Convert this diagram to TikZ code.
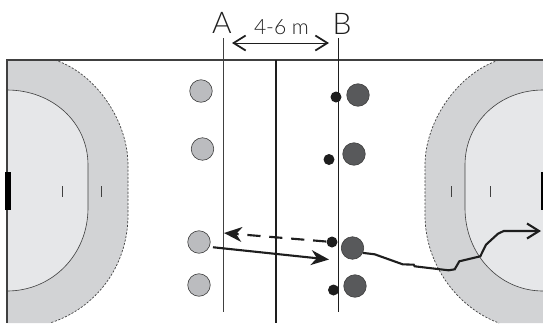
\documentclass[tikz,border=0pt]{standalone}
\usepackage{fontspec}
\setmainfont{Lato Light}
\usetikzlibrary{arrows.meta}
\definecolor{ink}{HTML}{1E1E1E}
\definecolor{courtline}{HTML}{404040}
\definecolor{outerzone}{HTML}{D2D3D5}
\definecolor{innerzone}{HTML}{E6E7E9}
\definecolor{teamlight}{HTML}{BBBCBF}
\definecolor{teamdark}{HTML}{58595B}
\tikzset{
 every node/.append style={text=ink},
 defender/.style={circle,draw=courtline,fill=teamlight,line width=.35pt,minimum size=4.5mm,inner sep=0pt},
 attacker/.style={defender,fill=teamdark},
 ball/.style={circle,fill=ink,minimum size=2.2mm,inner sep=0pt},
 letter/.style={font=\fontsize{17}{20}\selectfont,inner sep=0pt},
 gaplabel/.style={font=\fontsize{12}{14}\selectfont,inner sep=0pt},
 marking/.style={draw=courtline,line width=.35pt},
 border/.style={draw=courtline,line width=.6pt},
 zoneedge/.style={draw=courtline,line width=.4pt,dash pattern=on 1.2pt off .9pt},
 pass/.style={-{Stealth[length=3.6mm,width=3mm]},draw=ink,line width=1.2pt},
 dribble/.style={-{Straight Barb[length=2.4mm,width=3mm]},draw=ink,line width=1.2pt},
 measure/.style={{Straight Barb[length=2.4mm,width=3mm,line width=1pt]}-{Straight Barb[length=2.4mm,width=3mm,line width=1pt]},draw=ink,line width=.5pt},
}

\begin{document}
\begin{tikzpicture}[x=.2mm,y=-.2mm]
\useasboundingbox (0,0) rectangle (543,323);
\clip (0,0) rectangle (543,323);

% goal areas
\fill[outerzone] (7,60) -- (55,60) .. controls (97,74) and (128,122) .. (128,165) -- (128,215)
  .. controls (128,265) and (97,308) .. (50,323) -- (7,323) -- cycle;
\fill[innerzone] (7,90) .. controls (52,90) and (88,122) .. (88,165) -- (88,208)
  .. controls (88,255) and (52,291) .. (7,291) -- cycle;
\draw[zoneedge] (7,60) -- (55,60) .. controls (97,74) and (128,122) .. (128,165) -- (128,215)
  .. controls (128,265) and (97,308) .. (50,323);
\draw[marking] (7,90) .. controls (52,90) and (88,122) .. (88,165) -- (88,208)
  .. controls (88,255) and (52,291) .. (7,291);

\fill[outerzone] (543,60) -- (499,60) .. controls (457,74) and (425,122) .. (425,165) -- (425,215)
  .. controls (425,265) and (458,308) .. (499,323) -- (543,323) -- cycle;
\fill[innerzone] (543,90) .. controls (500,90) and (465,122) .. (465,165) -- (465,208)
  .. controls (465,255) and (500,291) .. (543,291) -- cycle;
\draw[zoneedge] (543,60) -- (499,60) .. controls (457,74) and (425,122) .. (425,165) -- (425,215)
  .. controls (425,265) and (458,308) .. (499,323);
\draw[marking] (543,90) .. controls (500,90) and (465,122) .. (465,165) -- (465,208)
  .. controls (465,255) and (500,291) .. (543,291);

% court
\draw[border] (7,323) -- (7,60) -- (543,60);
\draw[fill=black,draw=none] (5,172) rectangle (11,210);
\draw[fill=black,draw=none] (541,172) rectangle (543,210);
\foreach \xtick in {62,101,451,490}
  \draw[marking,line width=.5pt] (\xtick,186) -- (\xtick,197);
\draw[draw=ink,line width=.8pt] (276,60) -- (276,323);
\draw[marking] (223,38) -- (223,312);
\draw[draw=ink,line width=.4pt] (338.5,38) -- (338.5,312);

% labels
\node[letter] (lineA) at (222,23) {A};
\node[letter] (lineB) at (342,24) {B};
\node[gaplabel] (gap) at (281.5,27) {4-6 m};
\coordinate (gapl) at (232,43);
\coordinate (gapr) at (329,43);
\draw[measure] (gapl) -- (gapr);

% players
\node[defender] (d1) at (201,91) {};
\node[defender] (d2) at (202.5,149) {};
\node[defender] (d3) at (199,242) {};
\node[defender] (d4) at (199,285) {};
\node[attacker] (a1) at (358,95) {};
\node[attacker] (a2) at (354,154) {};
\node[attacker] (a3) at (352.5,248) {};
\node[attacker] (a4) at (355,286) {};
\node[ball] (b1) at (336,97) {};
\node[ball] (b2) at (329,159.5) {};
\node[ball] (b3) at (332,242) {};
\node[ball] (b4) at (333.5,290) {};

% actions
\coordinate (back) at (224,233);
\coordinate (target) at (329,259.5);
\coordinate (goal) at (541,231);
\draw[pass,dash pattern=on 7.5pt off 5pt] (b3) -- (back);
\draw[pass,shorten <=2pt] (d3.-25) -- (target);
\draw[dribble] (a3.-25) -- (374.7,254.3) -- (402.7,264.3) -- (413.7,264.7) -- (414.7,266.3)
  -- (448.7,270.3) -- (454.7,269.3) -- (459.3,261.3) -- (480.3,256.3) -- (486,244.7)
  -- (498,233.7) -- (503.7,231) -- (goal);
\end{tikzpicture}
\end{document}
